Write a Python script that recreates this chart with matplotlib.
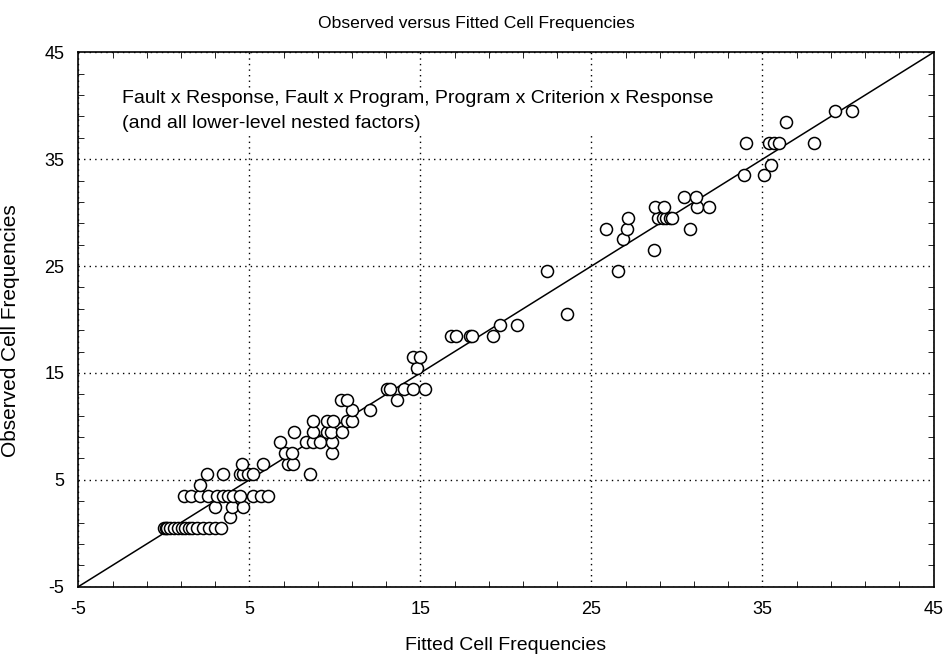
import numpy as np
import matplotlib.pyplot as plt

plt.rcParams['font.family'] = ['Liberation Sans', 'DejaVu Sans']
plt.rcParams['axes.unicode_minus'] = False

# fitted vs observed cell frequencies
fitted = [0.0, 0.1, 0.2, 0.35, 0.6, 0.8, 1.05, 1.25, 1.45, 1.65, 1.95, 2.3, 2.65, 3.0, 3.35,
          3.87,
          3.0, 3.97, 4.63,
          1.2, 1.6, 2.12, 2.6, 3.09, 3.48, 3.74, 4.06, 4.46, 5.23, 5.68, 6.11,
          2.1,
          2.54, 3.48, 4.46, 4.65, 4.94, 5.23, 8.55,
          4.59, 5.78, 7.28, 7.57,
          7.09, 7.48, 9.82,
          6.80, 8.32, 8.74, 9.13, 9.82,
          7.61, 8.74, 9.53, 9.76, 10.40,
          8.74, 9.53, 9.88, 10.70, 10.99,
          10.99, 12.06,
          10.36, 10.70, 13.65,
          13.07, 13.23, 14.05, 14.56, 15.27,
          14.82,
          14.56, 14.98,
          16.8, 17.1, 17.9, 18.0, 19.23,
          19.66, 20.67,
          23.56,
          22.43, 26.58,
          28.67,
          26.84,
          25.86, 27.07, 30.77,
          27.13, 28.92, 29.18, 29.37, 29.6, 29.7,
          28.72, 29.27, 31.16, 31.9,
          30.42, 31.12,
          33.93, 35.06,
          35.49,
          34.05, 35.41, 35.68, 35.99, 38.02,
          36.38,
          39.25, 40.23]
observed = [0.5, 0.5, 0.5, 0.5, 0.5, 0.5, 0.5, 0.5, 0.5, 0.5, 0.5, 0.5, 0.5, 0.5, 0.5,
            1.5,
            2.5, 2.5, 2.5,
            3.5, 3.5, 3.5, 3.5, 3.5, 3.5, 3.5, 3.5, 3.5, 3.5, 3.5, 3.5,
            4.5,
            5.5, 5.5, 5.5, 5.5, 5.5, 5.5, 5.5,
            6.5, 6.5, 6.5, 6.5,
            7.5, 7.5, 7.5,
            8.5, 8.5, 8.5, 8.5, 8.5,
            9.5, 9.5, 9.5, 9.5, 9.5,
            10.5, 10.5, 10.5, 10.5, 10.5,
            11.5, 11.5,
            12.5, 12.5, 12.5,
            13.5, 13.5, 13.5, 13.5, 13.5,
            15.5,
            16.5, 16.5,
            18.5, 18.5, 18.5, 18.5, 18.5,
            19.5, 19.5,
            20.5,
            24.5, 24.5,
            26.5,
            27.5,
            28.5, 28.5, 28.5,
            29.5, 29.5, 29.5, 29.5, 29.5, 29.5,
            30.5, 30.5, 30.5, 30.5,
            31.5, 31.5,
            33.5, 33.5,
            34.5,
            36.5, 36.5, 36.5, 36.5, 36.5,
            38.5,
            39.5, 39.5]

major = [-5, 5, 15, 25, 35, 45]

fig = plt.figure(figsize=(9.46, 6.58), dpi=100)
ax = fig.add_axes([0.0828, 0.1084, 0.904, 0.812])

# y = x reference line
ax.plot([-5, 45], [-5, 45], color='black', lw=1.1, zorder=2)
ax.scatter(fitted, observed, s=75, facecolors='white', edgecolors='black',
           linewidths=1.1, zorder=3)

ax.set_xlim(-5, 45)
ax.set_ylim(-5, 45)
ax.set_xticks(major)
ax.set_yticks(major)
ax.set_xticks(np.arange(-3, 45, 2), minor=True)
ax.set_yticks(np.arange(-3, 45, 2), minor=True)
ax.tick_params(which='both', direction='in', top=True, right=True, labelsize=13)
ax.tick_params(which='major', length=0, pad=10)
ax.tick_params(which='minor', length=4)
ax.grid(True, which='major', linestyle=(0, (1, 3)), color='black', lw=1)
for s in ax.spines.values():
    s.set_linewidth(1.2)

ax.text(0.051, 0.929, "Fault x Response, Fault x Program, Program x Criterion x Response\n"
        "(and all lower-level nested factors)", transform=ax.transAxes,
        fontsize=14, va='top', ha='left', linespacing=1.6, zorder=4,
        bbox=dict(facecolor='white', edgecolor='none', pad=2))

fig.text(0.504, 0.975, "Observed versus Fitted Cell Frequencies", ha='center', va='top', fontsize=12.6)
ax.set_xlabel("Fitted Cell Frequencies", fontsize=14, labelpad=14)
ax.set_ylabel("Observed Cell Frequencies", fontsize=15, labelpad=12)
ax.yaxis.set_label_coords(-0.068, 0.48)

fig.savefig("out.png", dpi=100)
